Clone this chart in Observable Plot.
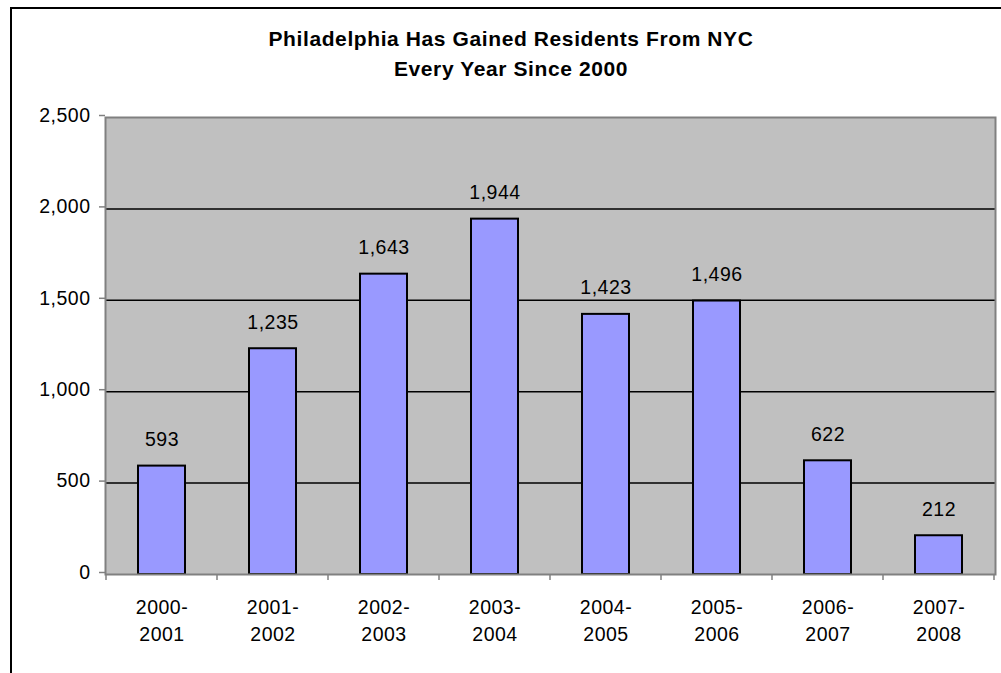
<!DOCTYPE html>
<html>
<head>
<meta charset="utf-8">
<script src="https://cdn.jsdelivr.net/npm/d3@7"></script>
<script src="https://cdn.jsdelivr.net/npm/@observablehq/plot@0.6"></script>
<style>
  html, body { margin: 0; padding: 0; background: #fff; width: 1001px; height: 673px; overflow: hidden; }
  #chart { position: absolute; left: 0; top: 0; }
  #border { position: absolute; left: 10px; top: 7px; width: 1100px; height: 800px;
            border-left: 2px solid #000; border-top: 2px solid #000; pointer-events: none; }
  #title { position: absolute; left: 20px; top: 24px; width: 982px; text-align: center;
           font-family: "Liberation Sans", Arial, sans-serif; font-weight: bold; font-size: 21px;
           line-height: 30px; letter-spacing: 0.6px; color: #000; }
</style>
</head>
<body>
<div id="chart"></div>
<div id="border"></div>
<div id="title">Philadelphia Has Gained Residents From NYC<br>Every Year Since 2000</div>
<script>
const periods = ["2000-2001", "2001-2002", "2002-2003", "2003-2004", "2004-2005", "2005-2006", "2006-2007", "2007-2008"];
const residents = [593, 1235, 1643, 1944, 1423, 1496, 622, 212];
const yTicks = [0, 500, 1000, 1500, 2000, 2500];
const gridValues = [500, 1000, 1500, 2000];

const data = periods.map((p, i) => ({period: p, value: residents[i]}));
const fmt = d3.format(",");

// tick marks at category boundaries, drawn from the band scale
function boundaryTicks(index, scales) {
  const x = scales.x, y = scales.y;
  const pad = (x.step() - x.bandwidth()) / 2;
  const y0 = y(0);
  const g = d3.create("svg:g").attr("stroke", "#808080").attr("stroke-width", 1.5);
  const dom = x.domain();
  const positions = dom.map(d => x(d) - pad);
  positions.push(x(dom[dom.length - 1]) + x.bandwidth() + pad);
  for (const px of positions) {
    g.append("line").attr("x1", px).attr("x2", px).attr("y1", y0).attr("y2", y0 + 6);
  }
  return g.node();
}

const chart = Plot.plot({
  width: 1001,
  height: 673,
  marginTop: 117,
  marginBottom: 99,
  marginLeft: 105,
  marginRight: 6,
  style: {
    background: "none",
    fontFamily: "'Liberation Sans', Arial, sans-serif",
    fontSize: "19.5px",
    letterSpacing: "0.5px",
    color: "#000",
    overflow: "visible"
  },
  x: {domain: periods, paddingInner: 0.58, paddingOuter: 0.29, align: 0.5},
  y: {domain: [0, 2500]},
  marks: [
    Plot.frame({fill: "#C0C0C0", stroke: null}),
    Plot.ruleY(gridValues, {stroke: "#000", strokeWidth: 1.5}),
    Plot.barY(data, {x: "period", y: "value", fill: "#9999FF", stroke: "#000", strokeWidth: 2}),
    Plot.frame({stroke: "#808080", strokeWidth: 2, fill: "none"}),
    Plot.text(data, {x: "period", y: "value", text: d => fmt(d.value), dy: -20, lineAnchor: "bottom", fontSize: 19.5, fill: "#000"}),
    Plot.axisY({ticks: yTicks, tickFormat: fmt, tickSize: 6, tickPadding: 9, stroke: "#808080", strokeWidth: 1.5, fill: "#000", fontSize: 19.5, dy: -2, label: null}),
    Plot.axisX({tickSize: 0, tickPadding: 20, tickFormat: d => d.replace("-", "-\n"), lineHeight: 1.4, fill: "#000", fontSize: 19.5, label: null}),
    boundaryTicks
  ]
});
document.getElementById("chart").appendChild(chart);
</script>
</body>
</html>
